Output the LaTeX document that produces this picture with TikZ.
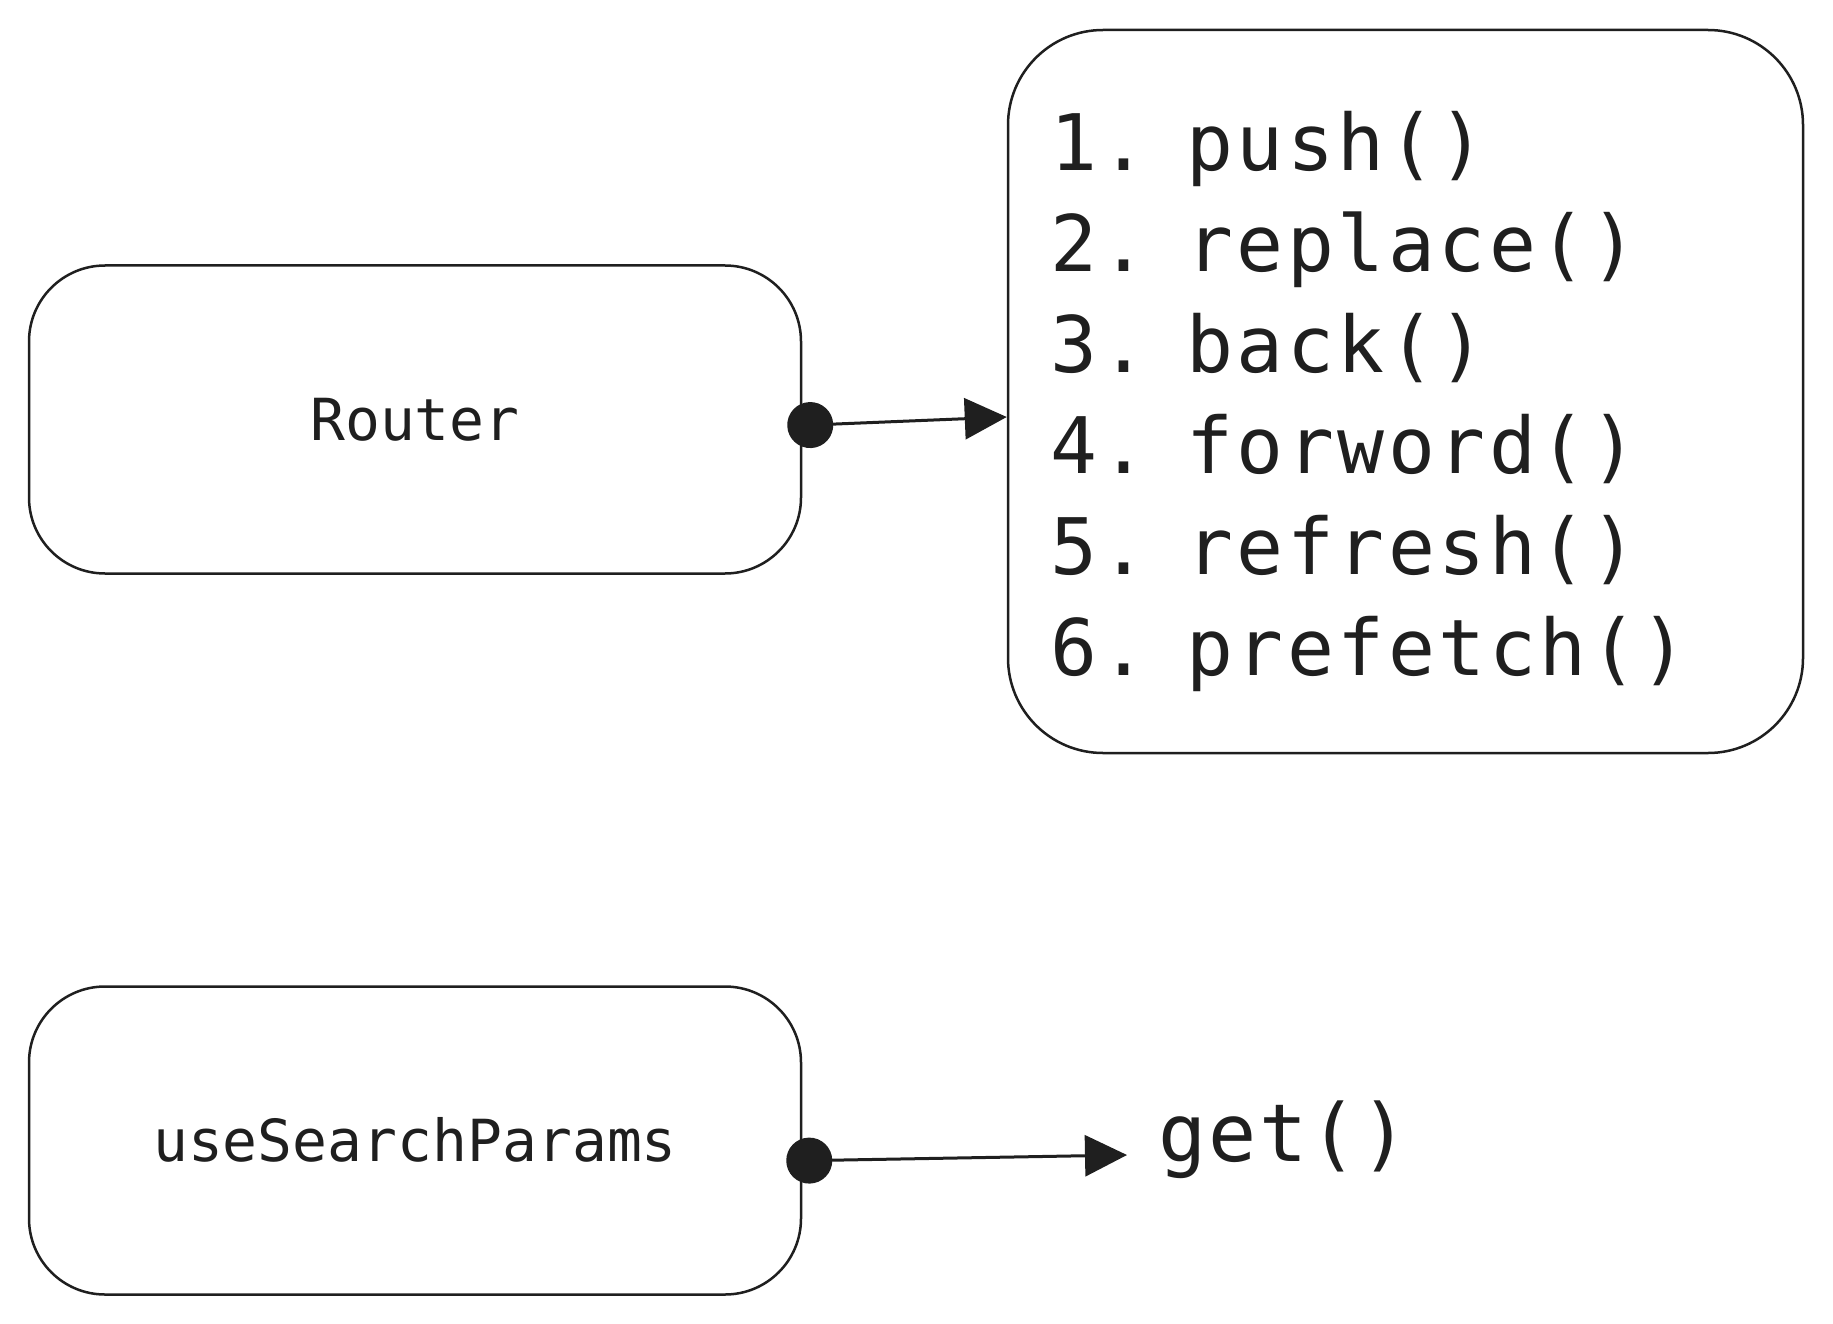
\documentclass[tikz,border=0pt]{standalone}
\usepackage{fontspec}
\usetikzlibrary{arrows.meta}
\newfontfamily\monofont{DejaVu Sans Mono}
\newfontfamily\monowide[LetterSpace=4.5]{DejaVu Sans Mono}
\newfontfamily\monomid[LetterSpace=3]{DejaVu Sans Mono}
\definecolor{ink}{HTML}{1F1F1F}
\begin{document}
\begin{tikzpicture}[x=1pt,y=-1pt,
  roundbox/.style={draw=ink, line width=2.5pt, rounded corners=76pt, fill=white,
    minimum width=772pt, minimum height=308pt, inner sep=0pt,
    font=\monofont\fontsize{58}{70}\selectfont, text=ink,
    text height=42pt, text depth=0pt},
  listbox/.style={draw=ink, line width=2.5pt, rounded corners=95pt, fill=white,
    minimum width=795pt, minimum height=723pt, inner xsep=42pt, inner ysep=0pt,
    text width=711pt, align=left,
    font=\monowide\fontsize{78}{101}\selectfont, text=ink},
  plaintext/.style={inner xsep=31pt, inner ysep=0pt,
    font=\monomid\fontsize{80}{96}\selectfont, text=ink},
  link/.style={draw=ink, line width=3pt,
    {Circle[length=46pt,width=46pt]}-{Triangle[length=42pt,width=41pt]}}
]
\useasboundingbox (0,0) rectangle (1833,1324);

\node[roundbox] (router) at (415,419.5) {Router};
\node[roundbox] (usp) at (415,1140.5) {useSearchParams};
\node[listbox] (methods) at (1405.5,391.5) {\rule{0pt}{80pt}1. push()\\2. replace()\\3. back()\\4. forword()\\5. refresh()\\6. prefetch()};
\node[plaintext, anchor=base west] (get) at (1127,1161) {get()};

\draw[link] ([shift={(-15pt,-6.5pt)}]router.east) -- ([yshift=-25.5pt]methods.west);
\draw[link] ([shift={(-16pt,-20.5pt)}]usp.east) -- ([yshift=6pt]get.base west);
\end{tikzpicture}
\end{document}
